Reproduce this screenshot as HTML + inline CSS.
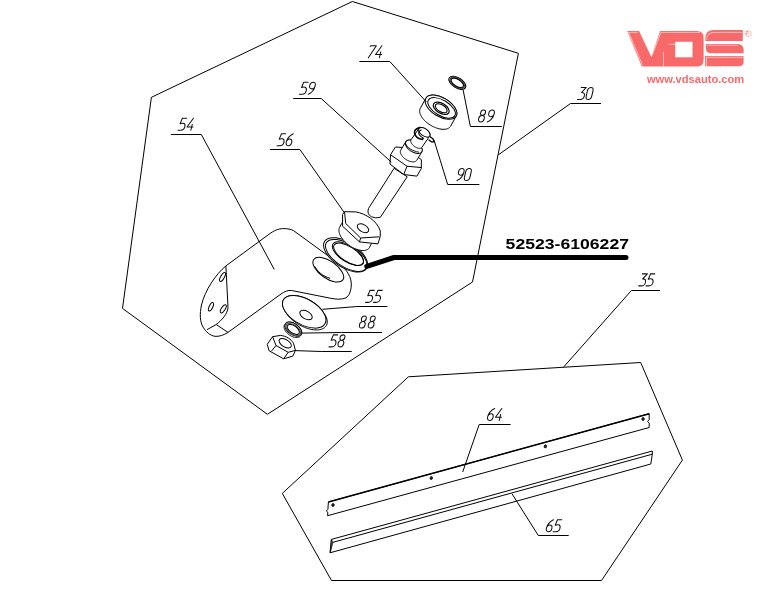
<!DOCTYPE html>
<html><head><meta charset="utf-8"><style>
html,body{margin:0;padding:0;background:#fff;width:764px;height:590px;overflow:hidden}
svg{display:block;will-change:transform}
.lb{font-family:"Liberation Sans",sans-serif;font-style:italic;font-size:17.5px;fill:#111}
.pn{font-family:"Liberation Sans",sans-serif;font-weight:bold;font-size:14.8px;fill:#000}
.url{font-family:"Liberation Sans",sans-serif;font-weight:bold;font-size:10.3px;fill:#f86a6a}
</style></head><body>
<svg width="764" height="590" viewBox="0 0 764 590">
<rect width="764" height="590" fill="#fff"/>
<polygon points="352.4,1.5 518.4,53.3 472.5,282 267.4,414.3 122.5,308.4 151.4,97.3" fill="none" stroke="#000" stroke-width="1" />
<polygon points="408.4,376.8 640.7,362.5 682.4,460.1 601.5,580.5 331.5,580.5 282.3,493.4" fill="none" stroke="#000" stroke-width="1" />
<polyline points="498.4,154.8 570.5,103.5 601,103.5" fill="none" stroke="#000" stroke-width="1" />
<path d="M0.04,1 L0.46,1 L0.16,0.58 C0.36,0.6 0.46,0.48 0.46,0.3 C0.46,0.1 0.34,0 0.2,0 L-0.04,0" transform="translate(578,99.45) skewX(-13) scale(12.0,-12.0)" fill="none" stroke="#111" stroke-width="1.05" vector-effect="non-scaling-stroke" stroke-linecap="round" stroke-linejoin="round"/>
<path d="M0,0.72 C0,0.92 0.1,1 0.24,1 C0.38,1 0.46,0.92 0.46,0.72 L0.46,0.28 C0.46,0.08 0.36,0 0.22,0 C0.08,0 0,0.08 0,0.28 Z" transform="translate(585.44,99.45) skewX(-13) scale(12.0,-12.0)" fill="none" stroke="#111" stroke-width="1.05" vector-effect="non-scaling-stroke" stroke-linecap="round" stroke-linejoin="round"/>
<polyline points="563.8,366.8 631.4,290.5 659.9,290.5" fill="none" stroke="#000" stroke-width="1" />
<path d="M0.04,1 L0.46,1 L0.16,0.58 C0.36,0.6 0.46,0.48 0.46,0.3 C0.46,0.1 0.34,0 0.2,0 L-0.04,0" transform="translate(639.1,285.85) skewX(-13) scale(12.0,-12.0)" fill="none" stroke="#111" stroke-width="1.05" vector-effect="non-scaling-stroke" stroke-linecap="round" stroke-linejoin="round"/>
<path d="M0.46,1 L0.1,1 L0.02,0.55 C0.12,0.59 0.22,0.6 0.3,0.58 C0.42,0.54 0.47,0.43 0.47,0.3 C0.47,0.1 0.36,0 0.18,0 L-0.04,0" transform="translate(646.54,285.85) skewX(-13) scale(12.0,-12.0)" fill="none" stroke="#111" stroke-width="1.05" vector-effect="non-scaling-stroke" stroke-linecap="round" stroke-linejoin="round"/>
<polygon points="328.4,502 649.2,413.7 649.2,419.5 647.6,421.4 649.2,423.2 649.2,427.5 327.6,515.7 327.8,512.2 326.3,511 327.9,509.3" fill="#fff" stroke="#000" stroke-width="1" />
<line x1="328.4" y1="502" x2="649.2" y2="413.7" stroke="#000" stroke-width="1.5"/>
<ellipse cx="333" cy="505" rx="1.3" ry="1.6" transform="rotate(15 333 505)" fill="#222" stroke="#000" stroke-width="0.6"/>
<ellipse cx="431.3" cy="478" rx="1.3" ry="1.6" transform="rotate(15 431.3 478)" fill="#222" stroke="#000" stroke-width="0.6"/>
<ellipse cx="545.4" cy="446.4" rx="1.3" ry="1.6" transform="rotate(15 545.4 446.4)" fill="#222" stroke="#000" stroke-width="0.6"/>
<ellipse cx="643.1" cy="419" rx="1.3" ry="1.6" transform="rotate(15 643.1 419)" fill="#222" stroke="#000" stroke-width="0.6"/>
<polygon points="331.4,539.4 652.3,451 652.3,454.2 650.8,464 330,552.8" fill="#fff" stroke="#000" stroke-width="1" />
<line x1="333" y1="542.3" x2="652.3" y2="454.2" stroke="#000" stroke-width="1"/>
<polygon points="331.4,539.4 333,542.3 330.3,552.5" fill="#555" stroke="#000" stroke-width="0.6" />
<polyline points="462.7,472 479.2,424.5 510.6,424.5" fill="none" stroke="#000" stroke-width="1" />
<path d="M0.42,1 C0.18,0.86 0,0.6 0,0.3 C0,0.1 0.1,0 0.23,0 C0.37,0 0.46,0.1 0.46,0.28 C0.46,0.46 0.36,0.56 0.23,0.56 C0.12,0.56 0.04,0.5 0.01,0.4" transform="translate(486.8,420.45) skewX(-13) scale(12.0,-12.0)" fill="none" stroke="#111" stroke-width="1.05" vector-effect="non-scaling-stroke" stroke-linecap="round" stroke-linejoin="round"/>
<path d="M0.36,1 L0,0.27 L0.5,0.27 M0.38,0.5 L0.38,0" transform="translate(494.72,420.45) skewX(-13) scale(12.0,-12.0)" fill="none" stroke="#111" stroke-width="1.05" vector-effect="non-scaling-stroke" stroke-linecap="round" stroke-linejoin="round"/>
<polyline points="512,493.8 538.3,535.5 568.7,535.5" fill="none" stroke="#000" stroke-width="1" />
<path d="M0.42,1 C0.18,0.86 0,0.6 0,0.3 C0,0.1 0.1,0 0.23,0 C0.37,0 0.46,0.1 0.46,0.28 C0.46,0.46 0.36,0.56 0.23,0.56 C0.12,0.56 0.04,0.5 0.01,0.4" transform="translate(545.6,531.75) skewX(-13) scale(12.0,-12.0)" fill="none" stroke="#111" stroke-width="1.05" vector-effect="non-scaling-stroke" stroke-linecap="round" stroke-linejoin="round"/>
<path d="M0.46,1 L0.1,1 L0.02,0.55 C0.12,0.59 0.22,0.6 0.3,0.58 C0.42,0.54 0.47,0.43 0.47,0.3 C0.47,0.1 0.36,0 0.18,0 L-0.04,0" transform="translate(553.52,531.75) skewX(-13) scale(12.0,-12.0)" fill="none" stroke="#111" stroke-width="1.05" vector-effect="non-scaling-stroke" stroke-linecap="round" stroke-linejoin="round"/>
<path d="M225.9,265.9 L270.7,233 C276,229.5 280,228.5 284,228.6 C287.5,228.7 290.5,229 293.5,230.6 L340,264.5 C347,270 351.5,277 351.3,285 C351.2,291 349,296 345.9,297.8 C342,299.8 336,299.3 330.8,298.3 L291.7,290.5 C288,290 284.5,291.5 281,294 L228,332.4 C224,335 219,336.8 214.9,336.3 C210,335.5 206,332 203.1,327.1 C200,322 199.5,314 201.5,305 C205,290 216,274 225.9,265.9 Z" fill="#fff" stroke="#000" stroke-width="1" />
<path d="M225.9,265.9 L228,307.5 C227.5,314 222,320 216.2,324.5 L207,329.7 M216.2,324.5 L228,332.4" fill="none" stroke="#000" stroke-width="1" />
<ellipse cx="222.5" cy="277" rx="1.8" ry="5" transform="rotate(30 222.5 277)" fill="none" stroke="#000" stroke-width="1"/>
<ellipse cx="211" cy="306.8" rx="1.8" ry="4.6" transform="rotate(25 211 306.8)" fill="none" stroke="#000" stroke-width="1"/>
<ellipse cx="223.3" cy="308.8" rx="1.9" ry="4.6" transform="rotate(32 223.3 308.8)" fill="none" stroke="#000" stroke-width="1"/>
<ellipse cx="328.3" cy="269.7" rx="17.8" ry="8.6" transform="rotate(35 328.3 269.7)" fill="#fff" stroke="#000" stroke-width="1"/>
<path d="M314.6,266.3 C317.5,271.5 322.5,276 330,278.3" fill="none" stroke="#000" stroke-width="1" />
<polyline points="274.3,269.5 201.3,134.5 170.9,134.5" fill="none" stroke="#000" stroke-width="1" />
<path d="M0.46,1 L0.1,1 L0.02,0.55 C0.12,0.59 0.22,0.6 0.3,0.58 C0.42,0.54 0.47,0.43 0.47,0.3 C0.47,0.1 0.36,0 0.18,0 L-0.04,0" transform="translate(178.4,130.25) skewX(-13) scale(12.0,-12.0)" fill="none" stroke="#111" stroke-width="1.05" vector-effect="non-scaling-stroke" stroke-linecap="round" stroke-linejoin="round"/>
<path d="M0.36,1 L0,0.27 L0.5,0.27 M0.38,0.5 L0.38,0" transform="translate(186.32,130.25) skewX(-13) scale(12.0,-12.0)" fill="none" stroke="#111" stroke-width="1.05" vector-effect="non-scaling-stroke" stroke-linecap="round" stroke-linejoin="round"/>
<polygon points="282.46,303.32 282.54,302.37 282.73,301.46 283.02,300.6 283.42,299.8 283.91,299.06 284.51,298.37 285.2,297.76 285.99,297.21 286.86,296.73 287.81,296.33 288.85,296 289.96,295.75 291.15,295.58 292.39,295.48 293.69,295.47 295.05,295.53 296.45,295.68 297.88,295.9 299.35,296.2 300.84,296.58 302.35,297.03 303.86,297.55 305.38,298.14 306.89,298.8 308.39,299.52 309.87,300.3 311.32,301.14 312.74,302.03 314.11,302.97 315.44,303.95 316.71,304.97 317.92,306.02 319.06,307.1 320.13,308.2 321.13,309.32 322.04,310.45 322.86,311.59 324.16,313.39 324.9,314.53 325.54,315.67 326.08,316.79 326.52,317.9 326.86,318.99 327.09,320.05 327.22,321.08 327.24,322.08 327.16,323.03 326.97,323.94 326.68,324.8 326.29,325.6 325.79,326.34 325.19,327.03 324.5,327.64 323.71,328.19 322.84,328.67 321.88,329.07 320.85,329.4 319.74,329.65 318.55,329.82 317.31,329.92 316,329.93 314.65,329.87 313.25,329.72 311.82,329.5 310.35,329.2 308.86,328.82 307.35,328.37 305.84,327.85 304.32,327.26 302.81,326.6 301.31,325.88 299.83,325.1 298.38,324.26 296.96,323.37 295.59,322.43 294.26,321.45 292.99,320.43 291.78,319.38 290.64,318.3 289.56,317.2 288.57,316.08 287.66,314.95 286.84,313.81 285.54,312.01 284.8,310.87 284.16,309.73 283.62,308.61 283.18,307.5 282.84,306.41 282.61,305.35 282.48,304.31" fill="#fff" stroke="#000" stroke-width="1" />
<ellipse cx="304.2" cy="311.8" rx="24" ry="12.8" transform="rotate(30 304.2 311.8)" fill="#fff" stroke="#000" stroke-width="1"/>
<ellipse cx="306" cy="315" rx="6.8" ry="3.9" transform="rotate(30 306 315)" fill="none" stroke="#000" stroke-width="1"/>
<polyline points="322.4,309.3 357.2,306.5 387.4,306.5" fill="none" stroke="#000" stroke-width="1" />
<path d="M0.46,1 L0.1,1 L0.02,0.55 C0.12,0.59 0.22,0.6 0.3,0.58 C0.42,0.54 0.47,0.43 0.47,0.3 C0.47,0.1 0.36,0 0.18,0 L-0.04,0" transform="translate(366,302.35) skewX(-13) scale(12.0,-12.0)" fill="none" stroke="#111" stroke-width="1.05" vector-effect="non-scaling-stroke" stroke-linecap="round" stroke-linejoin="round"/>
<path d="M0.46,1 L0.1,1 L0.02,0.55 C0.12,0.59 0.22,0.6 0.3,0.58 C0.42,0.54 0.47,0.43 0.47,0.3 C0.47,0.1 0.36,0 0.18,0 L-0.04,0" transform="translate(373.92,302.35) skewX(-13) scale(12.0,-12.0)" fill="none" stroke="#111" stroke-width="1.05" vector-effect="non-scaling-stroke" stroke-linecap="round" stroke-linejoin="round"/>
<polygon points="284.03,326.77 284.07,326.35 284.15,325.95 284.27,325.57 284.44,325.22 284.64,324.89 285.44,323.69 285.68,323.39 285.95,323.12 286.26,322.88 286.61,322.67 286.99,322.49 287.4,322.34 287.84,322.22 288.3,322.14 288.79,322.1 289.3,322.09 289.83,322.11 290.38,322.17 290.94,322.26 291.52,322.39 292.1,322.55 292.69,322.74 293.28,322.96 293.87,323.21 294.46,323.5 295.04,323.81 295.62,324.14 296.18,324.5 296.73,324.89 297.26,325.3 297.77,325.72 298.26,326.16 298.73,326.62 299.17,327.08 299.58,327.56 299.96,328.05 300.31,328.54 300.63,329.04 300.91,329.54 301.15,330.03 301.35,330.52 301.52,331.01 301.64,331.48 301.72,331.95 301.77,332.4 301.77,332.83 301.73,333.25 301.65,333.65 301.53,334.03 301.37,334.38 301.16,334.71 300.36,335.91 300.12,336.21 299.85,336.48 299.54,336.72 299.19,336.94 298.81,337.12 298.4,337.26 297.96,337.38 297.5,337.46 297.01,337.5 296.5,337.51 295.96,337.49 295.42,337.43 294.86,337.34 294.28,337.21 293.7,337.06 293.11,336.86 292.52,336.64 291.93,336.39 291.34,336.1 290.76,335.79 290.19,335.46 289.62,335.1 289.07,334.71 288.54,334.31 288.03,333.88 287.54,333.44 287.07,332.98 286.63,332.51 286.22,332.04 285.84,331.55 285.49,331.06 285.17,330.56 284.89,330.06 284.65,329.57 284.45,329.08 284.28,328.59 284.16,328.12 284.08,327.65 284.03,327.2" fill="#fff" stroke="#000" stroke-width="1" />
<ellipse cx="293.3" cy="329.2" rx="9.6" ry="5.5" transform="rotate(35 293.3 329.2)" fill="#fff" stroke="#000" stroke-width="1"/>
<ellipse cx="293.2" cy="329.5" rx="8.4" ry="4.5" transform="rotate(35 293.2 329.5)" fill="none" stroke="#555" stroke-width="1.2"/>
<ellipse cx="293.3" cy="329.4" rx="7" ry="3.6" transform="rotate(35 293.3 329.4)" fill="none" stroke="#000" stroke-width="1"/>
<polyline points="302.2,333.1 341.6,332.5 382,332.5" fill="none" stroke="#000" stroke-width="1" />
<path d="M0.24,0.55 C0.1,0.55 0.05,0.66 0.05,0.78 C0.05,0.92 0.13,1 0.25,1 C0.37,1 0.45,0.92 0.45,0.78 C0.45,0.66 0.38,0.55 0.24,0.55 C0.09,0.55 0,0.43 0,0.27 C0,0.09 0.1,0 0.23,0 C0.37,0 0.47,0.09 0.47,0.27 C0.47,0.43 0.38,0.55 0.24,0.55 Z" transform="translate(358.7,328.05) skewX(-13) scale(12.0,-12.0)" fill="none" stroke="#111" stroke-width="1.05" vector-effect="non-scaling-stroke" stroke-linecap="round" stroke-linejoin="round"/>
<path d="M0.24,0.55 C0.1,0.55 0.05,0.66 0.05,0.78 C0.05,0.92 0.13,1 0.25,1 C0.37,1 0.45,0.92 0.45,0.78 C0.45,0.66 0.38,0.55 0.24,0.55 C0.09,0.55 0,0.43 0,0.27 C0,0.09 0.1,0 0.23,0 C0.37,0 0.47,0.09 0.47,0.27 C0.47,0.43 0.38,0.55 0.24,0.55 Z" transform="translate(367.58,328.05) skewX(-13) scale(12.0,-12.0)" fill="none" stroke="#111" stroke-width="1.05" vector-effect="non-scaling-stroke" stroke-linecap="round" stroke-linejoin="round"/>
<path d="M272.6,336.7 L280.6,335.4 C286,336 291,339 293.5,343.2 L295.4,350.4 L292.8,356.2 L283.6,358.8 L269.1,350.8 L267.2,344.3 Z" fill="#fff" stroke="#000" stroke-width="1" />
<path d="M272.6,336.7 L276,345.5 L288.2,352.3 L295.4,350.4 M276,345.5 L271.4,351.2 M288.2,352.3 L283.6,358.8" fill="none" stroke="#000" stroke-width="1" />
<ellipse cx="285.2" cy="343.2" rx="6.9" ry="3.7" transform="rotate(32 285.2 343.2)" fill="none" stroke="#000" stroke-width="1"/>
<polyline points="294.9,350.6 321.5,351.5 351.7,351.5" fill="none" stroke="#000" stroke-width="1" />
<path d="M0.46,1 L0.1,1 L0.02,0.55 C0.12,0.59 0.22,0.6 0.3,0.58 C0.42,0.54 0.47,0.43 0.47,0.3 C0.47,0.1 0.36,0 0.18,0 L-0.04,0" transform="translate(329.4,346.85) skewX(-13) scale(12.0,-12.0)" fill="none" stroke="#111" stroke-width="1.05" vector-effect="non-scaling-stroke" stroke-linecap="round" stroke-linejoin="round"/>
<path d="M0.24,0.55 C0.1,0.55 0.05,0.66 0.05,0.78 C0.05,0.92 0.13,1 0.25,1 C0.37,1 0.45,0.92 0.45,0.78 C0.45,0.66 0.38,0.55 0.24,0.55 C0.09,0.55 0,0.43 0,0.27 C0,0.09 0.1,0 0.23,0 C0.37,0 0.47,0.09 0.47,0.27 C0.47,0.43 0.38,0.55 0.24,0.55 Z" transform="translate(337.32,346.85) skewX(-13) scale(12.0,-12.0)" fill="none" stroke="#111" stroke-width="1.05" vector-effect="non-scaling-stroke" stroke-linecap="round" stroke-linejoin="round"/>
<ellipse cx="345.6" cy="254.9" rx="25" ry="12.5" transform="rotate(33 345.6 254.9)" fill="#fff" stroke="#000" stroke-width="1"/>
<ellipse cx="346.2" cy="255.4" rx="23.6" ry="11.3" transform="rotate(33 346.2 255.4)" fill="none" stroke="#000" stroke-width="1"/>
<ellipse cx="347.9" cy="253.6" rx="17.8" ry="8.1" transform="rotate(33 347.9 253.6)" fill="#fff" stroke="#000" stroke-width="1"/>
<ellipse cx="348.6" cy="254.3" rx="17.2" ry="7.4" transform="rotate(33 348.6 254.3)" fill="none" stroke="#000" stroke-width="1"/>
<polygon points="338.91,230.19 338.96,229.45 339.1,228.75 339.3,228.09 339.58,227.48 341.58,223.48 341.94,222.92 342.36,222.41 342.86,221.95 343.42,221.55 344.04,221.21 344.73,220.93 345.47,220.71 346.26,220.55 347.11,220.46 348,220.42 348.93,220.46 349.9,220.55 350.91,220.71 351.94,220.93 352.99,221.21 354.06,221.55 355.13,221.95 356.22,222.41 357.31,222.92 358.39,223.48 359.47,224.09 360.53,224.75 361.57,225.45 362.59,226.19 363.58,226.96 364.53,227.77 365.44,228.6 366.31,229.46 367.13,230.34 367.9,231.23 368.62,232.13 369.27,233.04 369.87,233.96 370.39,234.87 370.85,235.77 371.25,236.66 371.56,237.54 371.81,238.4 371.98,239.23 372.07,240.04 372.09,240.81 372.04,241.55 371.9,242.25 371.7,242.91 371.42,243.52 369.42,247.52 369.06,248.08 368.64,248.59 368.14,249.05 367.58,249.45 366.96,249.79 366.27,250.07 365.53,250.29 364.74,250.45 363.89,250.54 363,250.58 362.07,250.54 361.1,250.45 360.09,250.29 359.06,250.07 358.01,249.79 356.94,249.45 355.87,249.05 354.78,248.59 353.69,248.08 352.61,247.52 351.53,246.91 350.47,246.25 349.43,245.55 348.41,244.81 347.42,244.04 346.47,243.23 345.56,242.4 344.69,241.54 343.87,240.66 343.1,239.77 342.38,238.87 341.73,237.96 341.13,237.04 340.61,236.13 340.15,235.23 339.75,234.34 339.44,233.46 339.19,232.6 339.02,231.77 338.93,230.96" fill="#fff" stroke="#000" stroke-width="1" />
<path d="M344.53,211.68 L355.92,211.91 C365.35,213.48 377.13,220.71 380.27,230.92 L380.27,236.42 L377.92,243.88 L359.46,241.92 L342.57,226.21 L342.57,214.43 Z" fill="#fff" stroke="#000" stroke-width="1" />
<path d="M344.53,211.68 L345.71,223.46 L360.64,237.99 L379.49,236.81 M360.64,237.99 L359.46,241.92" fill="none" stroke="#000" stroke-width="1" />
<ellipse cx="363" cy="228.2" rx="6.3" ry="3.6" transform="rotate(30 363 228.2)" fill="none" stroke="#000" stroke-width="1"/>
<polyline points="344.6,213 299.9,149.5 270,149.5" fill="none" stroke="#000" stroke-width="1" />
<path d="M0.46,1 L0.1,1 L0.02,0.55 C0.12,0.59 0.22,0.6 0.3,0.58 C0.42,0.54 0.47,0.43 0.47,0.3 C0.47,0.1 0.36,0 0.18,0 L-0.04,0" transform="translate(277.5,145.75) skewX(-13) scale(12.0,-12.0)" fill="none" stroke="#111" stroke-width="1.05" vector-effect="non-scaling-stroke" stroke-linecap="round" stroke-linejoin="round"/>
<path d="M0.42,1 C0.18,0.86 0,0.6 0,0.3 C0,0.1 0.1,0 0.23,0 C0.37,0 0.46,0.1 0.46,0.28 C0.46,0.46 0.36,0.56 0.23,0.56 C0.12,0.56 0.04,0.5 0.01,0.4" transform="translate(285.42,145.75) skewX(-13) scale(12.0,-12.0)" fill="none" stroke="#111" stroke-width="1.05" vector-effect="non-scaling-stroke" stroke-linecap="round" stroke-linejoin="round"/>
<path d="M394.1,168.3 L368.6,208.3 Q366.4,214 371.5,216.8 Q375.5,218.7 380.3,217.3 L407.2,176.8 Z" fill="#fff" stroke="#000" stroke-width="1" />
<path d="M395.46,146.97 L402.62,147.52 L419.13,157.98 L421.33,159.63 L421.33,168.44 L416.93,176.15 L403.72,174.5 L389.95,164.04 L390.5,154.68 Z" fill="#fff" stroke="#000" stroke-width="1" />
<path d="M390.5,154.68 L407.02,166.24 L421.33,167.56 M407.02,166.24 L403.72,174.5" fill="none" stroke="#000" stroke-width="1" />
<polygon points="400.34,151.73 400.36,151.33 400.42,150.95 400.52,150.58 400.65,150.24 400.83,149.93 405.83,141.63 406.05,141.33 406.3,141.07 406.6,140.83 406.92,140.62 407.28,140.45 407.67,140.3 408.1,140.18 408.54,140.1 409.02,140.05 409.52,140.03 410.04,140.05 410.57,140.1 411.13,140.18 411.69,140.29 412.27,140.44 412.85,140.61 413.44,140.82 414.03,141.05 414.62,141.32 415.21,141.61 415.78,141.92 416.35,142.26 416.91,142.62 417.45,143 417.97,143.4 418.48,143.82 418.96,144.25 419.41,144.69 419.84,145.15 420.24,145.61 420.6,146.08 420.94,146.55 421.24,147.02 421.5,147.49 421.72,147.96 421.91,148.42 422.06,148.88 422.16,149.32 422.23,149.75 422.26,150.17 422.24,150.57 422.18,150.95 422.08,151.32 421.95,151.66 421.77,151.97 416.77,160.27 416.55,160.57 416.3,160.83 416,161.07 415.68,161.28 415.32,161.45 414.93,161.6 414.5,161.72 414.06,161.8 413.58,161.85 413.08,161.87 412.56,161.85 412.03,161.8 411.47,161.72 410.91,161.61 410.33,161.46 409.75,161.29 409.16,161.08 408.57,160.85 407.98,160.58 407.39,160.29 406.82,159.98 406.25,159.64 405.69,159.28 405.15,158.9 404.63,158.5 404.12,158.08 403.64,157.65 403.19,157.21 402.76,156.75 402.36,156.29 402,155.82 401.66,155.35 401.36,154.88 401.1,154.41 400.88,153.94 400.69,153.48 400.54,153.02 400.44,152.58 400.37,152.15" fill="#fff" stroke="#000" stroke-width="1" />
<ellipse cx="413.8" cy="146.8" rx="9.5" ry="5.2" transform="rotate(33 413.8 146.8)" fill="#fff" stroke="#000" stroke-width="1"/>
<path d="M405.6,143.5 C407,147.5 412,151 419,152.2" fill="none" stroke="#000" stroke-width="0.9" />
<polygon points="410.76,140.85 410.78,140.57 410.84,140.31 410.92,140.06 411.03,139.83 411.16,139.62 418.96,128.42 419.12,128.23 419.31,128.05 419.52,127.9 419.75,127.77 420.01,127.66 420.28,127.57 420.58,127.51 420.89,127.47 421.22,127.45 421.57,127.46 421.93,127.49 422.3,127.54 422.68,127.62 423.07,127.72 423.46,127.84 423.86,127.98 424.26,128.15 424.66,128.33 425.06,128.54 425.46,128.76 425.85,129 426.23,129.25 426.6,129.53 426.96,129.81 427.31,130.1 427.64,130.41 427.96,130.73 428.26,131.05 428.54,131.38 428.8,131.72 429.04,132.06 429.25,132.39 429.44,132.73 429.61,133.07 429.75,133.4 429.86,133.73 429.95,134.05 430.01,134.36 430.04,134.66 430.04,134.95 430.02,135.23 429.96,135.49 429.88,135.74 429.77,135.97 429.64,136.18 421.84,147.38 421.68,147.57 421.49,147.75 421.28,147.9 421.05,148.03 420.79,148.14 420.52,148.23 420.22,148.29 419.91,148.33 419.58,148.35 419.23,148.34 418.87,148.31 418.5,148.26 418.12,148.18 417.73,148.08 417.34,147.96 416.94,147.82 416.54,147.65 416.14,147.47 415.74,147.26 415.34,147.04 414.95,146.8 414.57,146.55 414.2,146.28 413.84,145.99 413.49,145.69 413.15,145.39 412.84,145.07 412.54,144.75 412.26,144.42 412,144.08 411.76,143.75 411.55,143.41 411.36,143.07 411.19,142.73 411.05,142.4 410.94,142.07 410.85,141.75 410.79,141.44 410.76,141.14" fill="#fff" stroke="#000" stroke-width="1" />
<ellipse cx="424.3" cy="132.3" rx="6.6" ry="3.6" transform="rotate(36 424.3 132.3)" fill="#fff" stroke="#000" stroke-width="1"/>
<path d="M420.3,127.3 C416,128.5 414,131 414.6,133.5 C415.5,136.5 419,139 422.5,139.5 L423.3,137.8" fill="none" stroke="#000" stroke-width="1.5" />
<path d="M421.5,129.8 C418.5,131 418,133 419.5,135 C420.5,136.5 422,137.5 423.3,137.8" fill="none" stroke="#000" stroke-width="1.1" />
<path d="M429.4,136.2 L432.8,138.6 L434.3,141.8 L431.5,141.8 L428.6,139.8" fill="#fff" stroke="#000" stroke-width="1.3" />
<polyline points="391.3,162.1 321.2,98.5 293.2,98.5" fill="none" stroke="#000" stroke-width="1" />
<path d="M0.46,1 L0.1,1 L0.02,0.55 C0.12,0.59 0.22,0.6 0.3,0.58 C0.42,0.54 0.47,0.43 0.47,0.3 C0.47,0.1 0.36,0 0.18,0 L-0.04,0" transform="translate(299.8,94.15) skewX(-13) scale(12.0,-12.0)" fill="none" stroke="#111" stroke-width="1.05" vector-effect="non-scaling-stroke" stroke-linecap="round" stroke-linejoin="round"/>
<path d="M0.46,0.72 C0.46,0.54 0.36,0.44 0.23,0.44 C0.1,0.44 0,0.54 0,0.72 C0,0.9 0.1,1 0.23,1 C0.37,1 0.46,0.9 0.46,0.72 C0.46,0.4 0.3,0.12 0.04,0" transform="translate(307.72,94.15) skewX(-13) scale(12.0,-12.0)" fill="none" stroke="#111" stroke-width="1.05" vector-effect="non-scaling-stroke" stroke-linecap="round" stroke-linejoin="round"/>
<polyline points="434,140.1 447.7,184.5 479.3,184.5" fill="none" stroke="#000" stroke-width="1" />
<path d="M0.46,0.72 C0.46,0.54 0.36,0.44 0.23,0.44 C0.1,0.44 0,0.54 0,0.72 C0,0.9 0.1,1 0.23,1 C0.37,1 0.46,0.9 0.46,0.72 C0.46,0.4 0.3,0.12 0.04,0" transform="translate(456.5,180.45) skewX(-13) scale(12.0,-12.0)" fill="none" stroke="#111" stroke-width="1.05" vector-effect="non-scaling-stroke" stroke-linecap="round" stroke-linejoin="round"/>
<path d="M0,0.72 C0,0.92 0.1,1 0.24,1 C0.38,1 0.46,0.92 0.46,0.72 L0.46,0.28 C0.46,0.08 0.36,0 0.22,0 C0.08,0 0,0.08 0,0.28 Z" transform="translate(463.7,180.45) skewX(-13) scale(12.0,-12.0)" fill="none" stroke="#111" stroke-width="1.05" vector-effect="non-scaling-stroke" stroke-linecap="round" stroke-linejoin="round"/>
<polygon points="419.66,110.71 419.74,110.01 419.89,109.34 420.11,108.72 420.41,108.14 425.91,98.14 426.29,97.59 426.73,97.1 427.25,96.66 427.83,96.27 428.48,95.93 429.19,95.64 429.95,95.41 430.77,95.24 431.64,95.13 432.56,95.08 433.51,95.08 434.5,95.15 435.53,95.27 436.58,95.45 437.65,95.69 438.74,95.98 439.84,96.33 440.94,96.74 442.05,97.19 443.15,97.69 444.24,98.24 445.31,98.83 446.37,99.46 447.39,100.13 448.39,100.84 449.35,101.58 450.27,102.34 451.14,103.12 451.96,103.93 452.74,104.75 453.45,105.59 454.1,106.43 454.69,107.28 455.21,108.12 455.67,108.97 456.05,109.8 456.36,110.62 456.59,111.42 456.75,112.2 456.83,112.96 456.84,113.69 456.76,114.39 456.61,115.06 456.39,115.68 456.09,116.27 450.59,126.27 450.21,126.81 449.77,127.3 449.25,127.74 448.67,128.13 448.02,128.47 447.31,128.76 446.55,128.99 445.73,129.16 444.86,129.27 443.94,129.32 442.99,129.32 442,129.25 440.97,129.13 439.92,128.95 438.85,128.71 437.76,128.42 436.66,128.07 435.56,127.66 434.45,127.21 433.35,126.71 432.26,126.16 431.19,125.57 430.13,124.94 429.11,124.27 428.11,123.56 427.15,122.83 426.23,122.06 425.36,121.28 424.54,120.47 423.76,119.65 423.05,118.81 422.4,117.97 421.81,117.12 421.29,116.28 420.83,115.44 420.45,114.6 420.14,113.78 419.91,112.98 419.75,112.2 419.67,111.44" fill="#fff" stroke="#000" stroke-width="1" />
<ellipse cx="441" cy="107.2" rx="17.6" ry="9.4" transform="rotate(31 441 107.2)" fill="#fff" stroke="#000" stroke-width="1"/>
<ellipse cx="441.6" cy="107.9" rx="15.4" ry="7.7" transform="rotate(31 441.6 107.9)" fill="none" stroke="#000" stroke-width="1"/>
<ellipse cx="441.2" cy="108.3" rx="8.8" ry="4.9" transform="rotate(31 441.2 108.3)" fill="none" stroke="#000" stroke-width="1.2"/>
<ellipse cx="441.2" cy="108.3" rx="6.6" ry="3.5" transform="rotate(31 441.2 108.3)" fill="none" stroke="#000" stroke-width="1.1"/>
<polyline points="426.4,102 389.8,61.5 359.4,61.5" fill="none" stroke="#000" stroke-width="1" />
<path d="M0,0.94 L0.04,1 L0.5,1 L0.06,0" transform="translate(367.6,57.75) skewX(-13) scale(12.0,-12.0)" fill="none" stroke="#111" stroke-width="1.05" vector-effect="non-scaling-stroke" stroke-linecap="round" stroke-linejoin="round"/>
<path d="M0.36,1 L0,0.27 L0.5,0.27 M0.38,0.5 L0.38,0" transform="translate(374.8,57.75) skewX(-13) scale(12.0,-12.0)" fill="none" stroke="#111" stroke-width="1.05" vector-effect="non-scaling-stroke" stroke-linecap="round" stroke-linejoin="round"/>
<ellipse cx="457.3" cy="82.8" rx="9.5" ry="5" transform="rotate(32 457.3 82.8)" fill="none" stroke="#000" stroke-width="1.1"/>
<ellipse cx="457.3" cy="82.8" rx="8.2" ry="4.2" transform="rotate(32 457.3 82.8)" fill="none" stroke="#444" stroke-width="1.3"/>
<ellipse cx="457.3" cy="82.8" rx="7" ry="3.4" transform="rotate(32 457.3 82.8)" fill="none" stroke="#000" stroke-width="1.1"/>
<polyline points="463.1,89.9 470.4,126.5 501.8,126.5" fill="none" stroke="#000" stroke-width="1" />
<path d="M0.24,0.55 C0.1,0.55 0.05,0.66 0.05,0.78 C0.05,0.92 0.13,1 0.25,1 C0.37,1 0.45,0.92 0.45,0.78 C0.45,0.66 0.38,0.55 0.24,0.55 C0.09,0.55 0,0.43 0,0.27 C0,0.09 0.1,0 0.23,0 C0.37,0 0.47,0.09 0.47,0.27 C0.47,0.43 0.38,0.55 0.24,0.55 Z" transform="translate(477.9,121.95) skewX(-13) scale(12.0,-12.0)" fill="none" stroke="#111" stroke-width="1.05" vector-effect="non-scaling-stroke" stroke-linecap="round" stroke-linejoin="round"/>
<path d="M0.46,0.72 C0.46,0.54 0.36,0.44 0.23,0.44 C0.1,0.44 0,0.54 0,0.72 C0,0.9 0.1,1 0.23,1 C0.37,1 0.46,0.9 0.46,0.72 C0.46,0.4 0.3,0.12 0.04,0" transform="translate(486.78,121.95) skewX(-13) scale(12.0,-12.0)" fill="none" stroke="#111" stroke-width="1.05" vector-effect="non-scaling-stroke" stroke-linecap="round" stroke-linejoin="round"/>
<polyline points="366.8,266.4 394,257.5 626,257.5" fill="none" stroke="#000" stroke-width="5" stroke-linecap="round" stroke-linejoin="round"/>
<text x="505.6" y="248.9" class="pn" textLength="123.4" lengthAdjust="spacingAndGlyphs" transform="rotate(0.01 560 245)">52523-6106227</text>
<path d="M627.2,31.1 L639.1,31.1 L651.3,57 L660.1,31.1 L697,31.1 Q703.6,31.1 703.6,38 L703.6,60 Q703.6,66.5 697,66.5 L641.8,66.5 Z M675.5,41.8 L692.5,41.8 L692.5,57 L675.5,57 Z" fill="#f86a6a" fill-rule="evenodd"/>
<path d="M705.3,41.1 L705.3,38.5 Q705.3,30.1 714,30.1 L742.8,30.1 L742.8,41.1 Z" fill="#f86a6a"/>
<path d="M705.8,43.9 L738.5,43.9 Q743.6,45 743.6,50 L743.6,53.3 L711,53.3 Q705.8,53.3 705.8,48 Z" fill="#f86a6a"/>
<path d="M705.1,56 L743.6,56 L743.6,61.5 Q743.6,66.2 738.5,66.2 L705.1,66.2 Z" fill="#f86a6a"/>
<path d="M628.7,32.4 L637.5,32.4 M628.7,32.4 L642.6,65.5" fill="none" stroke="#fff" stroke-width="0.55"/>
<path d="M652.2,55.5 L660.9,32.4 L700,32.4" fill="none" stroke="#fff" stroke-width="0.55"/>
<path d="M663.5,52 L663.5,66.5 M668.5,44.3 L675.5,44.3 M675.5,41.8 L675.5,57 L692.5,57" fill="none" stroke="#fff" stroke-width="0.55"/>
<path d="M741.8,32.4 L714.5,32.4 Q706.6,32.4 706.6,40" fill="none" stroke="#fff" stroke-width="0.55"/>
<path d="M706.6,45.2 L738,45.2 M706.6,57.3 L743.6,57.3 M706.5,57.3 L706.5,66.2" fill="none" stroke="#fff" stroke-width="0.55"/>
<circle cx="748.3" cy="33.6" r="2.9" fill="none" stroke="#f86a6a" stroke-width="0.6" opacity="0.8"/>
<text x="747" y="35.4" font-family="Liberation Sans" font-size="4.5" fill="#f86a6a" text-anchor="middle" opacity="0.8">R</text>
<text x="646.9" y="83.4" class="url" textLength="97.3" lengthAdjust="spacingAndGlyphs" transform="rotate(0.01 690 80)">www.vdsauto.com</text>
</svg></body></html>
